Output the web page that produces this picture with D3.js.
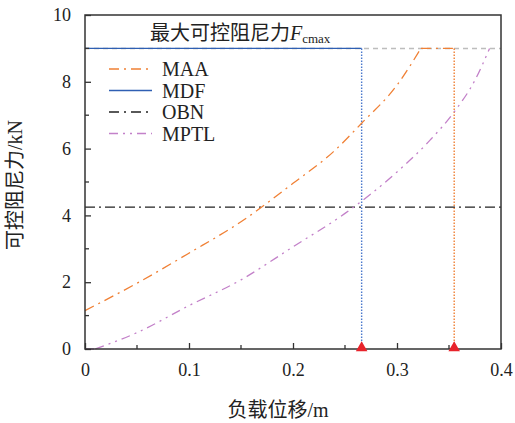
<!DOCTYPE html>
<html>
<head>
<meta charset="utf-8">
<title>damping</title>
<script src="https://cdn.jsdelivr.net/npm/d3@7"></script>
<style>
  body { margin: 0; background: #fff; }
  text { font-family: "Liberation Serif", "Noto Sans CJK SC", serif; fill: #222; }
</style>
</head>
<body>
<script>
// data
const maaX = [0, 0.05, 0.1, 0.15, 0.2, 0.239, 0.266, 0.3, 0.323, 0.355];
const maaY = [1.15, 1.97, 2.87, 3.81, 4.96, 5.91, 6.76, 7.9, 9, 9];
const mptlX = [0, 0.01, 0.05, 0.1, 0.15, 0.2, 0.25, 0.3, 0.332, 0.355, 0.375, 0.389];
const mptlY = [0, 0, 0.49, 1.30, 2.07, 3.06, 4.06, 5.3, 6.26, 7.1, 8.05, 9];
const fcmax = 9;
const obnLevel = 4.25;
const mdfEnd = 0.266;
const maaEnd = 0.355;
const xTicks = [0, 0.1, 0.2, 0.3, 0.4];
const yTicks = [0, 2, 4, 6, 8, 10];
const legendNames = ["MAA", "MDF", "OBN", "MPTL"];

const margin = { top: 15, right: 14, bottom: 74, left: 85 };
const W = 515, H = 423;
const w = W - margin.left - margin.right;
const h = H - margin.top - margin.bottom;

const svg = d3.select("body").append("svg").attr("width", W).attr("height", H);
const g = svg.append("g").attr("transform", "translate(" + margin.left + "," + margin.top + ")");

const x = d3.scaleLinear().domain([0, 0.4]).range([0, w]);
const y = d3.scaleLinear().domain([0, 10]).range([h, 0]);

const orange = "#f08035", blue = "#2f5fb3", blueDot = "#4a78cc", purple = "#c381c9", black = "#222";

// Fcmax gray dashed line
g.append("line")
  .attr("x1", x(0)).attr("x2", x(0.4)).attr("y1", y(fcmax)).attr("y2", y(fcmax))
  .attr("stroke", "#bdbdbd").attr("stroke-width", 1.5).attr("stroke-dasharray", "5,4");

// MDF
g.append("line")
  .attr("x1", x(0)).attr("x2", x(mdfEnd)).attr("y1", y(fcmax)).attr("y2", y(fcmax))
  .attr("stroke", blue).attr("stroke-width", 1.3);
g.append("line")
  .attr("x1", x(mdfEnd)).attr("x2", x(mdfEnd)).attr("y1", y(fcmax)).attr("y2", y(0))
  .attr("stroke", blueDot).attr("stroke-width", 1.4).attr("stroke-dasharray", "1.5,1.5");

// MAA vertical
g.append("line")
  .attr("x1", x(maaEnd)).attr("x2", x(maaEnd)).attr("y1", y(fcmax)).attr("y2", y(0))
  .attr("stroke", orange).attr("stroke-width", 1.4).attr("stroke-dasharray", "1.5,1.5");

// OBN
g.append("line")
  .attr("x1", x(0)).attr("x2", x(0.4)).attr("y1", y(obnLevel)).attr("y2", y(obnLevel))
  .attr("stroke", black).attr("stroke-width", 1.3).attr("stroke-dasharray", "10,4,2,4");

const curve = d3.line().x(d => x(d[0])).y(d => y(d[1])).curve(d3.curveMonotoneX);
const straight = d3.line().x(d => x(d[0])).y(d => y(d[1]));

// MAA: rising part smooth, then flat at Fcmax
const maa = d3.zip(maaX, maaY);
const maaTop = maaY.indexOf(fcmax);
g.append("path")
  .attr("d", curve(maa.slice(0, maaTop + 1)) + straight(maa.slice(maaTop)))
  .attr("fill", "none").attr("stroke", orange).attr("stroke-width", 1.3)
  .attr("stroke-dasharray", "10,5,2,5");

// MPTL: flat start, then smooth rise
const mptl = d3.zip(mptlX, mptlY);
g.append("path")
  .attr("d", straight(mptl.slice(0, 2)) + curve(mptl.slice(1)))
  .attr("fill", "none").attr("stroke", purple).attr("stroke-width", 1.3)
  .attr("stroke-dasharray", "9,5,2,5,2,5");

// axes (ticks inward)
const xAxis = d3.axisBottom(x).tickValues(xTicks).tickSize(-6).tickPadding(14)
  .tickFormat(d => d === 0 ? "0" : d3.format(".1f")(d));
const yAxis = d3.axisLeft(y).tickValues(yTicks).tickSize(-6).tickPadding(14).tickFormat(d3.format("d"));

g.append("g").attr("transform", "translate(0," + h + ")").call(xAxis)
  .call(a => a.selectAll(".tick line").attr("stroke", "#333").attr("stroke-width", 1.3));
g.append("g").call(yAxis)
  .call(a => a.selectAll(".tick line").attr("stroke", "#333").attr("stroke-width", 1.3));

// minor ticks
const xMinor = d3.range(0.05, 0.4, 0.1);
const yMinor = d3.range(1, 10, 2);
g.selectAll(".xminor").data(xMinor).enter().append("line")
  .attr("x1", d => x(d)).attr("x2", d => x(d)).attr("y1", h).attr("y2", h - 4)
  .attr("stroke", "#333").attr("stroke-width", 1.3);
g.selectAll(".yminor").data(yMinor).enter().append("line")
  .attr("x1", 0).attr("x2", 4).attr("y1", d => y(d)).attr("y2", d => y(d))
  .attr("stroke", "#333").attr("stroke-width", 1.3);

g.selectAll(".domain").remove();
g.selectAll(".tick text").style("font-size", "18px").attr("fill", "#222");

// frame
g.append("rect").attr("width", w).attr("height", h)
  .attr("fill", "none").attr("stroke", "#333").attr("stroke-width", 1.5);

// red triangles
g.selectAll(".tri").data([mdfEnd, maaEnd]).enter().append("path")
  .attr("d", d3.symbol().type(d3.symbolTriangle).size(58))
  .attr("transform", d => "translate(" + x(d) + "," + (h - 1) + ")")
  .attr("fill", "#e8232b");

// title text in plot
const t = g.append("text").attr("x", 65).attr("y", 25).style("font-size", "20px");
t.append("tspan").text("最大可控阻尼力");
t.append("tspan").attr("font-style", "italic").text("F");
t.append("tspan").attr("dy", 3).style("font-size", "13px").text("cmax");

// legend
const legendColors = [orange, blue, black, purple];
const legendDash = ["10,5,2,5", null, "10,5,2,5", "9,5,2,5,2,5"];
const lg = g.selectAll(".lg").data(legendNames).enter().append("g")
  .attr("transform", (d, i) => "translate(24," + (54 + i * 21.5) + ")");
lg.append("line").attr("x1", 0).attr("x2", 43)
  .attr("stroke", (d, i) => legendColors[i]).attr("stroke-width", 1.5)
  .attr("stroke-dasharray", (d, i) => legendDash[i]);
lg.append("text").attr("x", 53).attr("y", 7).style("font-size", "20px").text(d => d);

// axis titles
svg.append("text").attr("x", margin.left + w / 2 - 15).attr("y", 417)
  .attr("text-anchor", "middle").style("font-size", "20px").text("负载位移/m");
svg.append("text").attr("transform", "translate(22,185) rotate(-90)")
  .attr("text-anchor", "middle").style("font-size", "20px").text("可控阻尼力/kN");
</script>
</body>
</html>
